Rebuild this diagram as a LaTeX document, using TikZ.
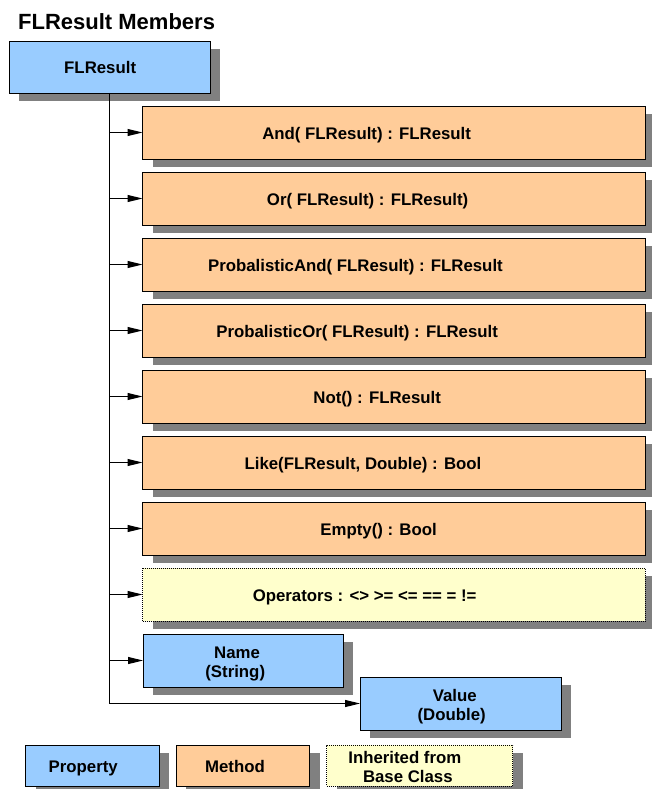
\documentclass[tikz,border=0pt]{standalone}
\usepackage{fontspec}
\setmainfont{Liberation Sans}
\usetikzlibrary{shadows,arrows.meta}

\definecolor{propblue}{HTML}{99CCFF}
\definecolor{methorange}{HTML}{FFCC99}
\definecolor{inhyellow}{HTML}{FFFFCC}
\definecolor{shadowgray}{HTML}{808080}

% box labels: caps-only line height, set a little left of the box centre
\newlength\lblwd
\newcommand\lbl[1]{\settowidth{\lblwd}{#1}\hspace*{-0.26\lblwd}\raisebox{-1pt}[12pt][0pt]{#1}}

\tikzset{
  member/.style={draw=black, line width=0.9pt, anchor=north west,
    inner sep=0pt, outer sep=0pt, align=center,
    font=\fontsize{16.8}{19}\selectfont\bfseries,
    drop shadow={shadow xshift=10pt, shadow yshift=-8pt,
      fill=shadowgray, opacity=1}},
  propbox/.style={member, fill=propblue, minimum width=200pt, minimum height=53pt},
  methbox/.style={member, fill=methorange, minimum width=502.5pt, minimum height=53pt},
  inhbox/.style={member, fill=inhyellow, dash pattern=on 1pt off 1pt,
    line width=0.8pt, minimum width=502.5pt, minimum height=53pt},
  legendbox/.style={minimum width=133.5pt, minimum height=41pt},
  trunk/.style={line width=1.4pt},
  link/.style={line width=1.1pt, -{Triangle[length=15pt,width=7pt]}},
}

\begin{document}
\begin{tikzpicture}[x=1pt,y=-1pt]
  \useasboundingbox (0,0) rectangle (651,789);

  % heading
  \node[anchor=base west, inner sep=0pt, font=\fontsize{22}{26}\selectfont\bfseries]
    (title) at (18,29.5) {FLResult Members};

  % class box
  \node[propbox, minimum width=201pt, minimum height=52pt] (root) at (9,41) {\lbl{FLResult}};

  % methods
  \node[methbox] (m1) at (142.5,106) {\lbl{And( FLResult) : FLResult}};
  \node[methbox] (m2) at (142.5,172) {\lbl{Or( FLResult) : FLResult)}};
  \node[methbox] (m3) at (142.5,238) {\lbl{ProbalisticAnd( FLResult) : FLResult}};
  \node[methbox] (m4) at (142.5,304) {\lbl{ProbalisticOr( FLResult) : FLResult}};
  \node[methbox] (m5) at (142.5,370) {\lbl{Not() : FLResult}};
  \node[methbox] (m6) at (142.5,436) {\lbl{Like(FLResult, Double) : Bool}};
  \node[methbox] (m7) at (142.5,502) {\lbl{Empty() : Bool}};

  % inherited operators
  \node[inhbox] (ops) at (142.5,568) {\lbl{Operators : <> >= <= == = !=}};

  % properties
  \node[propbox] (name) at (143,634) {\lbl{Name}\\\lbl{(String)}};
  \node[propbox, minimum width=201pt] (value) at (360,677) {\lbl{Value}\\\lbl{(Double)}};

  % connectors
  \draw[trunk] (root.south) -- (root.south |- value.west);
  \foreach \m in {m1,m2,m3,m4,m5,m6,m7,ops,name}
    \draw[link] (root.south |- \m.west) -- (\m.west);
  \draw[link] (root.south |- value.west) -- (value.west);

  % legend
  \node[propbox, legendbox] (lgprop) at (25.5,745) {\lbl{Property}};
  \node[methbox, legendbox] (lgmeth) at (176,745) {\lbl{Method}};
  \node[inhbox, legendbox, minimum width=186pt] (lginh) at (326.5,745)
    {\lbl{Inherited from}\\\lbl{Base Class}};
\end{tikzpicture}
\end{document}
